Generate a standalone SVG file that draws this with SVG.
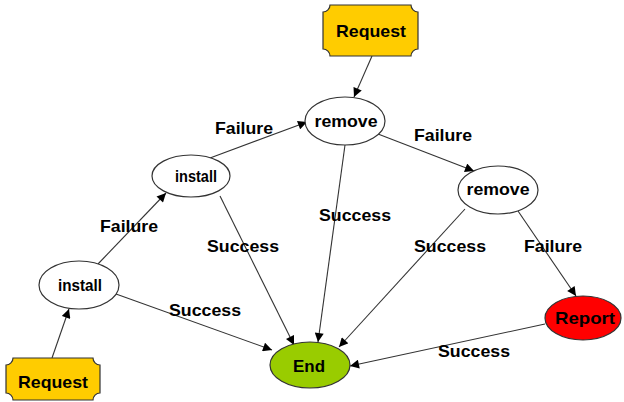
<svg xmlns="http://www.w3.org/2000/svg" width="624" height="402" viewBox="0 0 624 402">
<defs>
<marker id="ah" viewBox="0 0 10 10" refX="10" refY="5" markerWidth="10" markerHeight="9" markerUnits="userSpaceOnUse" orient="auto">
<path d="M0,0 L10,5 L0,10 Z" fill="#000"/>
</marker>
<style>
.t{font-family:"Liberation Sans",Arial,sans-serif;font-weight:bold;font-size:17px;fill:#000;text-anchor:middle;}
.e{stroke:#333;stroke-width:1.2;fill:#fff;}
.c{stroke:#333;stroke-width:1.1;fill:none;marker-end:url(#ah);}
.req{fill:#FFCC00;stroke:#333;stroke-width:1.2;}
</style>
</defs>
<rect width="624" height="402" fill="#fff"/>
<g id="connectors">
<line class="c" x1="52" y1="358" x2="69" y2="309"/>
<line class="c" x1="98" y1="264" x2="166" y2="193"/>
<line class="c" x1="210" y1="158" x2="307" y2="122"/>
<line class="c" x1="372" y1="56" x2="354" y2="97"/>
<line class="c" x1="378" y1="134" x2="474" y2="171"/>
<line class="c" x1="345" y1="145" x2="318" y2="342"/>
<line class="c" x1="220" y1="196" x2="294" y2="345"/>
<line class="c" x1="116" y1="294" x2="272" y2="350"/>
<line class="c" x1="465" y1="209" x2="339" y2="347"/>
<line class="c" x1="518" y1="211" x2="576" y2="296"/>
<line class="c" x1="545" y1="324" x2="350" y2="366"/>
<text class="t" x="129" y="232" textLength="58" lengthAdjust="spacingAndGlyphs">Failure</text>
<text class="t" x="244" y="134" textLength="58" lengthAdjust="spacingAndGlyphs">Failure</text>
<text class="t" x="443" y="141" textLength="58" lengthAdjust="spacingAndGlyphs">Failure</text>
<text class="t" x="553" y="252" textLength="58" lengthAdjust="spacingAndGlyphs">Failure</text>
<text class="t" x="243" y="252" textLength="72" lengthAdjust="spacingAndGlyphs">Success</text>
<text class="t" x="355" y="221" textLength="72" lengthAdjust="spacingAndGlyphs">Success</text>
<text class="t" x="450" y="252" textLength="72" lengthAdjust="spacingAndGlyphs">Success</text>
<text class="t" x="205" y="316" textLength="72" lengthAdjust="spacingAndGlyphs">Success</text>
<text class="t" x="474" y="357" textLength="72" lengthAdjust="spacingAndGlyphs">Success</text>
</g>
<g id="request-top">
<path class="req" d="M330,5 H411 A7,7 0 0 0 418,12 V49 A7,7 0 0 0 411,56 H330 A7,7 0 0 0 323,49 V12 A7,7 0 0 0 330,5 Z"/>
<text class="t" x="371" y="37" textLength="70" lengthAdjust="spacingAndGlyphs">Request</text>
</g>
<g id="request-bottom">
<path class="req" d="M13,358 H93 A7,7 0 0 0 100,365 V393 A7,7 0 0 0 93,400 H13 A7,7 0 0 0 6,393 V365 A7,7 0 0 0 13,358 Z"/>
<text class="t" x="53" y="388" textLength="70" lengthAdjust="spacingAndGlyphs">Request</text>
</g>
<g id="install-1">
<ellipse class="e" cx="79" cy="285" rx="40" ry="24"/>
<text class="t" x="80" y="291" textLength="44" lengthAdjust="spacingAndGlyphs">install</text>
</g>
<g id="install-2">
<ellipse class="e" cx="191" cy="176" rx="39" ry="21"/>
<text class="t" x="196" y="182" textLength="42" lengthAdjust="spacingAndGlyphs">install</text>
</g>
<g id="remove-1">
<ellipse class="e" cx="345" cy="121" rx="40" ry="24"/>
<text class="t" x="346" y="127" textLength="63" lengthAdjust="spacingAndGlyphs">remove</text>
</g>
<g id="remove-2">
<ellipse class="e" cx="498" cy="190" rx="40" ry="24"/>
<text class="t" x="498" y="195" textLength="63" lengthAdjust="spacingAndGlyphs">remove</text>
</g>
<g id="end">
<ellipse class="e" cx="310" cy="365" rx="40" ry="23" style="fill:#99CC00"/>
<text class="t" x="309" y="372" textLength="32" lengthAdjust="spacingAndGlyphs">End</text>
</g>
<g id="report">
<ellipse class="e" cx="583" cy="318" rx="38" ry="22" style="fill:#FF0000"/>
<text class="t" x="585" y="324" textLength="60" lengthAdjust="spacingAndGlyphs">Report</text>
</g>
</svg>
